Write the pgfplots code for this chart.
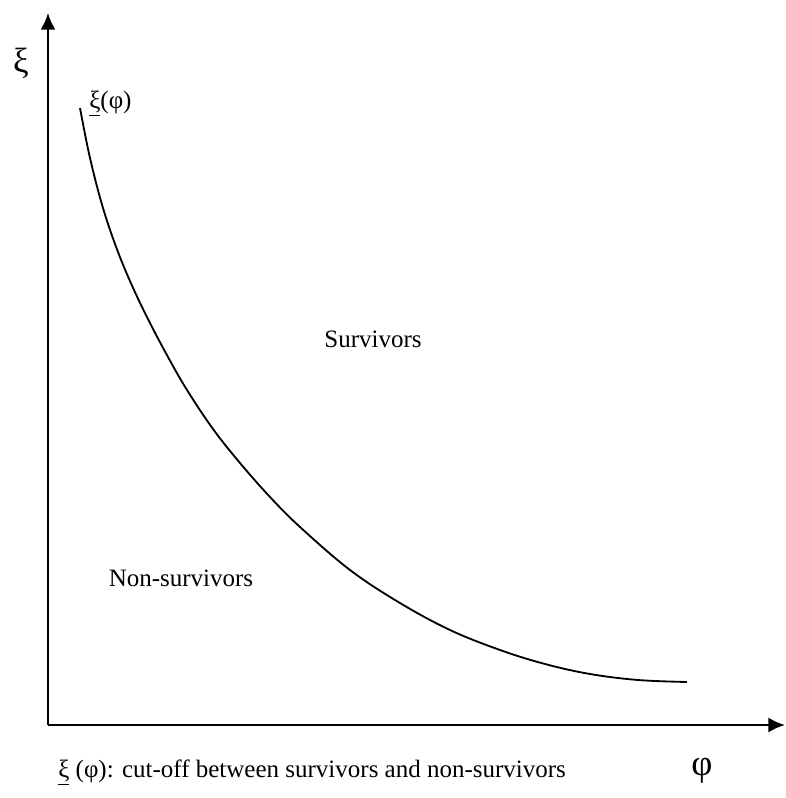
\documentclass[border=0pt]{standalone}
\usepackage{pgfplots}
\pgfplotsset{compat=1.18}
\usetikzlibrary{arrows.meta}
\usepackage{fontspec}
\setmainfont{Liberation Serif}
\begin{document}
\begin{tikzpicture}
\begin{axis}[
  x=0.6pt, y=0.6pt,
  xmin=0, xmax=737, ymin=0, ymax=712,
  axis lines=left,
  axis line style={line width=1.2pt, -{Latex[length=10pt,width=9pt]}},
  xtick=\empty, ytick=\empty,
  clip=false,
  font=\fontsize{15}{18}\selectfont,
]
\addplot[black, line width=1.1pt, smooth, tension=0.6] coordinates {
 (32,617) (42,567) (55,517) (70,473) (86,435) (102,402) (120,368)
 (139,335) (165,296) (192,262) (222,228) (252,198) (302,155) (352,122)
 (402,95) (452,75) (497,61) (542,51) (590,45) (639,43)
};
\node at (axis cs:-27,662) {\fontsize{21}{23}\selectfont ξ};
\node[anchor=west, inner sep=0pt] at (axis cs:41,621) {\underline{ξ}(φ)};
\node at (axis cs:325,386) {Survivors};
\node at (axis cs:133,147) {Non-survivors};
\node[anchor=west, inner sep=0pt] at (axis cs:10,-48) {\underline{ξ} (φ): cut-off between survivors and non-survivors};
\node at (axis cs:654,-46) {\fontsize{22}{24}\selectfont φ};
\path (axis cs:-48,-73) (axis cs:737,725);
\end{axis}
\end{tikzpicture}
\end{document}
